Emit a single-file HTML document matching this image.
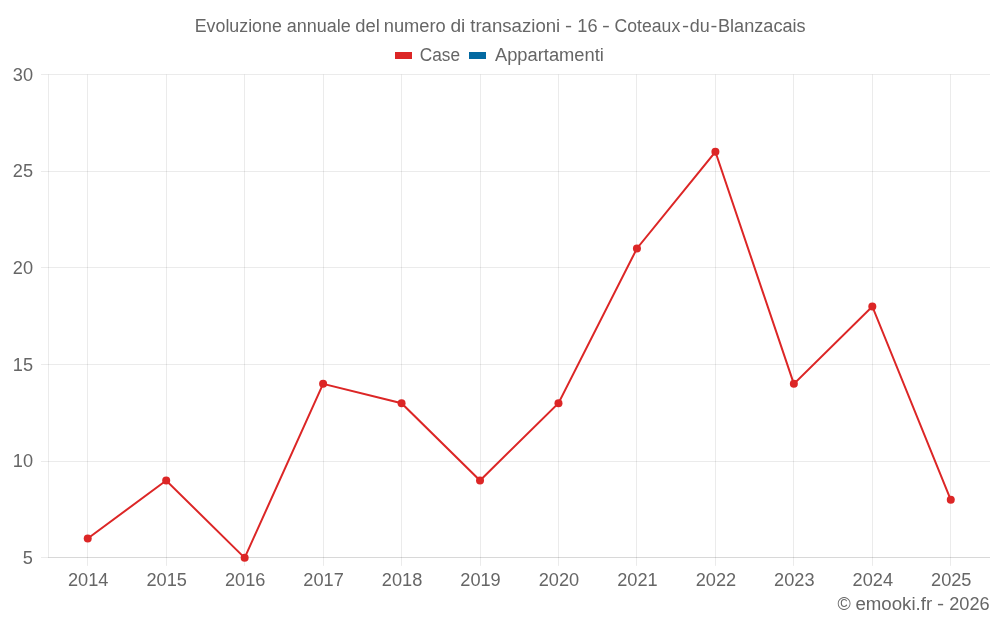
<!DOCTYPE html>
<html lang="it"><head><meta charset="utf-8"><title>Evoluzione annuale del numero di transazioni - 16 - Coteaux-du-Blanzacais</title>
<style>html,body{margin:0;padding:0;background:#fff;overflow:hidden}svg{display:block;will-change:transform}text{white-space:pre}</style>
</head><body>
<svg width="1000" height="625" viewBox="0 0 1000 625">
<rect width="1000" height="625" fill="#fff"/>
<g stroke="#000" stroke-opacity="0.08" stroke-width="1"><line x1="41" y1="74.5" x2="990" y2="74.5"/><line x1="41" y1="171.5" x2="990" y2="171.5"/><line x1="41" y1="267.5" x2="990" y2="267.5"/><line x1="41" y1="364.5" x2="990" y2="364.5"/><line x1="41" y1="461.5" x2="990" y2="461.5"/><line x1="41" y1="557.5" x2="990" y2="557.5"/><line x1="87.5" y1="74.46" x2="87.5" y2="565.86"/><line x1="166.5" y1="74.46" x2="166.5" y2="565.86"/><line x1="244.5" y1="74.46" x2="244.5" y2="565.86"/><line x1="323.5" y1="74.46" x2="323.5" y2="565.86"/><line x1="401.5" y1="74.46" x2="401.5" y2="565.86"/><line x1="480.5" y1="74.46" x2="480.5" y2="565.86"/><line x1="558.5" y1="74.46" x2="558.5" y2="565.86"/><line x1="636.5" y1="74.46" x2="636.5" y2="565.86"/><line x1="715.5" y1="74.46" x2="715.5" y2="565.86"/><line x1="793.5" y1="74.46" x2="793.5" y2="565.86"/><line x1="872.5" y1="74.46" x2="872.5" y2="565.86"/><line x1="950.5" y1="74.46" x2="950.5" y2="565.86"/><line x1="48.5" y1="74.46" x2="48.5" y2="557.86"/><line x1="48.50" y1="557.5" x2="990" y2="557.5"/></g>
<polyline points="87.73,538.52 166.19,480.52 244.65,557.86 323.10,383.84 401.56,403.17 480.02,480.52 558.48,403.17 636.94,248.48 715.40,151.80 793.85,383.84 872.31,306.49 950.77,499.85" fill="none" stroke="#dc2626" stroke-width="2" stroke-linejoin="miter"/>
<g fill="#dc2626"><circle cx="87.73" cy="538.52" r="4"/><circle cx="166.19" cy="480.52" r="4"/><circle cx="244.65" cy="557.86" r="4"/><circle cx="323.10" cy="383.84" r="4"/><circle cx="401.56" cy="403.17" r="4"/><circle cx="480.02" cy="480.52" r="4"/><circle cx="558.48" cy="403.17" r="4"/><circle cx="636.94" cy="248.48" r="4"/><circle cx="715.40" cy="151.80" r="4"/><circle cx="793.85" cy="383.84" r="4"/><circle cx="872.31" cy="306.49" r="4"/><circle cx="950.77" cy="499.85" r="4"/></g>
<rect x="395" y="52" width="17" height="7" fill="#dc2626"/>
<rect x="469" y="52" width="17" height="7" fill="#0369a1"/>
<g font-family="'Liberation Sans', Arial, sans-serif" font-size="18" fill="#666" style="font-kerning:none"><text y="32"><tspan x="194.74" textLength="87.05" lengthAdjust="spacingAndGlyphs">Evoluzione</tspan> <tspan x="286.74" textLength="64.06" lengthAdjust="spacingAndGlyphs">annuale</tspan> <tspan x="355.23" textLength="24.50" lengthAdjust="spacingAndGlyphs">del</tspan> <tspan x="383.79" textLength="61.98" lengthAdjust="spacingAndGlyphs">numero</tspan> <tspan x="450.40" textLength="14.89" lengthAdjust="spacingAndGlyphs">di</tspan> <tspan x="470.22" textLength="90.04" lengthAdjust="spacingAndGlyphs">transazioni</tspan> <tspan x="565.05" textLength="7.09" lengthAdjust="spacingAndGlyphs">-</tspan> <tspan x="577.31" textLength="20.23" lengthAdjust="spacingAndGlyphs">16</tspan> <tspan x="602.14" textLength="7.91" lengthAdjust="spacingAndGlyphs">-</tspan> <tspan x="614.61" textLength="65.58" lengthAdjust="spacingAndGlyphs">Coteaux</tspan><tspan x="682.05" textLength="7.09" lengthAdjust="spacingAndGlyphs">-</tspan><tspan x="689.75" textLength="19.94" lengthAdjust="spacingAndGlyphs">du</tspan><tspan x="710.59" textLength="6.82" lengthAdjust="spacingAndGlyphs">-</tspan><tspan x="718.01" textLength="87.64" lengthAdjust="spacingAndGlyphs">Blanzacais</tspan></text>
<text y="61"><tspan x="419.78" textLength="40.27" lengthAdjust="spacingAndGlyphs">Case</tspan></text>
<text y="61"><tspan x="494.97" textLength="108.87" lengthAdjust="spacingAndGlyphs">Appartamenti</tspan></text>
<text y="81"><tspan x="12.77" textLength="20.23" lengthAdjust="spacingAndGlyphs">30</tspan></text>
<text y="177"><tspan x="12.77" textLength="20.23" lengthAdjust="spacingAndGlyphs">25</tspan></text>
<text y="274"><tspan x="12.77" textLength="20.23" lengthAdjust="spacingAndGlyphs">20</tspan></text>
<text y="371"><tspan x="12.77" textLength="20.23" lengthAdjust="spacingAndGlyphs">15</tspan></text>
<text y="467"><tspan x="12.77" textLength="20.23" lengthAdjust="spacingAndGlyphs">10</tspan></text>
<text y="564"><tspan x="22.88" textLength="10.12" lengthAdjust="spacingAndGlyphs">5</tspan></text>
<text y="586"><tspan x="68.00" textLength="40.46" lengthAdjust="spacingAndGlyphs">2014</tspan></text>
<text y="586"><tspan x="146.46" textLength="40.46" lengthAdjust="spacingAndGlyphs">2015</tspan></text>
<text y="586"><tspan x="224.91" textLength="40.46" lengthAdjust="spacingAndGlyphs">2016</tspan></text>
<text y="586"><tspan x="303.37" textLength="40.46" lengthAdjust="spacingAndGlyphs">2017</tspan></text>
<text y="586"><tspan x="381.83" textLength="40.46" lengthAdjust="spacingAndGlyphs">2018</tspan></text>
<text y="586"><tspan x="460.29" textLength="40.46" lengthAdjust="spacingAndGlyphs">2019</tspan></text>
<text y="586"><tspan x="538.75" textLength="40.46" lengthAdjust="spacingAndGlyphs">2020</tspan></text>
<text y="586"><tspan x="617.21" textLength="40.46" lengthAdjust="spacingAndGlyphs">2021</tspan></text>
<text y="586"><tspan x="695.66" textLength="40.46" lengthAdjust="spacingAndGlyphs">2022</tspan></text>
<text y="586"><tspan x="774.12" textLength="40.46" lengthAdjust="spacingAndGlyphs">2023</tspan></text>
<text y="586"><tspan x="852.58" textLength="40.46" lengthAdjust="spacingAndGlyphs">2024</tspan></text>
<text y="586"><tspan x="931.04" textLength="40.46" lengthAdjust="spacingAndGlyphs">2025</tspan></text>
<text y="610"><tspan x="837.53" textLength="13.25" lengthAdjust="spacingAndGlyphs">©</tspan> <tspan x="855.41" textLength="76.70" lengthAdjust="spacingAndGlyphs">emooki.fr</tspan> <tspan x="937.05" textLength="7.09" lengthAdjust="spacingAndGlyphs">-</tspan> <tspan x="949.19" textLength="40.46" lengthAdjust="spacingAndGlyphs">2026</tspan></text></g>
</svg>
</body></html>
